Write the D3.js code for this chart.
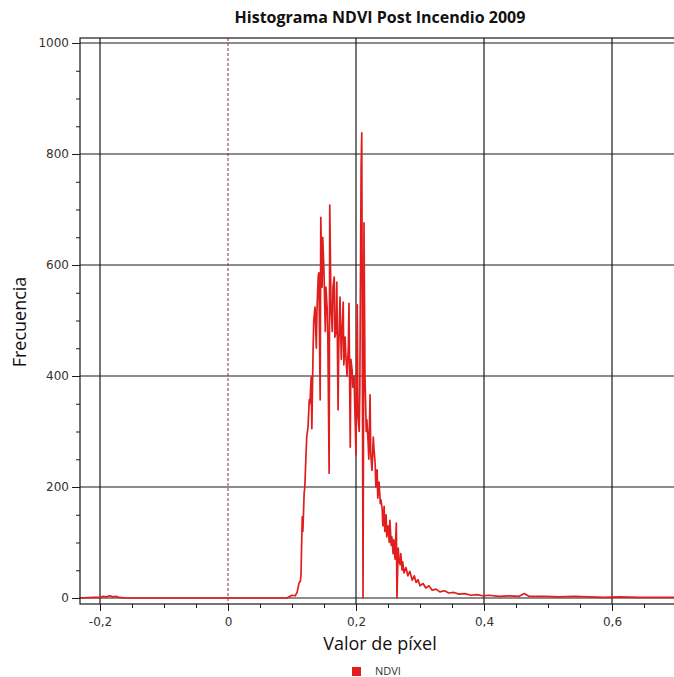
<!DOCTYPE html>
<html>
<head>
<meta charset="utf-8">
<script src="https://cdn.jsdelivr.net/npm/d3@7"></script>
<style>
  body { margin: 0; background: #fff; }
  svg { display: block; }
</style>
</head>
<body>
<div id="chart"></div>
<script>
// NDVI value of each histogram bin and its pixel count
var valorPixel = [
  -0.232, -0.21, -0.2, -0.195, -0.19, -0.185, -0.18, -0.175, -0.17, -0.16, -0.1, 0, 0.05, 0.09, 0.092,
  0.100, 0.105, 0.108, 0.111, 0.113, 0.114, 0.116, 0.117, 0.119, 0.120, 0.122, 0.123, 0.125, 0.127,
  0.128, 0.130, 0.131, 0.133, 0.134, 0.136, 0.138, 0.139, 0.141, 0.142, 0.144, 0.145, 0.147, 0.148,
  0.150, 0.152, 0.153, 0.155, 0.156, 0.158, 0.159, 0.161, 0.163, 0.164, 0.166, 0.167, 0.169, 0.170,
  0.172, 0.173, 0.175, 0.177, 0.178, 0.180, 0.181, 0.183, 0.184, 0.186, 0.188, 0.189, 0.191, 0.192,
  0.194, 0.195, 0.197, 0.198, 0.200, 0.202, 0.203, 0.205, 0.206, 0.208, 0.209, 0.211, 0.2125, 0.214,
  0.216, 0.217, 0.219, 0.220, 0.222, 0.223, 0.225, 0.227, 0.228, 0.230, 0.231, 0.233, 0.234, 0.236,
  0.238, 0.239, 0.241, 0.242, 0.244, 0.245, 0.247, 0.248, 0.250, 0.252, 0.253, 0.255, 0.256, 0.258,
  0.259, 0.261, 0.263, 0.264, 0.266, 0.267, 0.269, 0.270, 0.272, 0.273, 0.275, 0.278, 0.281, 0.284,
  0.288, 0.291, 0.294, 0.297, 0.300, 0.305, 0.309, 0.314, 0.319, 0.325, 0.331, 0.338, 0.345, 0.353,
  0.361, 0.370, 0.380, 0.389, 0.398, 0.408, 0.423, 0.439, 0.455, 0.463, 0.470, 0.494, 0.517, 0.541,
  0.564, 0.588, 0.611, 0.642, 0.673, 0.700
];
var frecuencia = [
  0, 1, 1, 3, 2, 4, 2, 3, 1, 0, 0, 0, 0, 0, 0,
  5, 4, 10, 27, 30, 40, 146, 120, 189, 200, 261, 290, 308, 357,
  350, 398, 305, 452, 500, 524, 450, 519, 580, 586, 357, 686, 560, 650,
  587, 480, 560, 520, 470, 225, 708, 520, 480, 560, 578, 470, 480, 569,
  339, 450, 542, 430, 470, 533, 420, 470, 440, 400, 450, 531, 272, 430,
  410, 380, 400, 350, 258, 528, 330, 300, 380, 777, 838, 0, 676, 400,
  300, 321, 280, 250, 366, 260, 230, 290, 270, 240, 200, 231, 180, 209,
  170, 177, 159, 130, 165, 120, 150, 110, 130, 100, 140, 95, 110, 80,
  105, 70, 135, 0, 90, 70, 60, 80, 50, 65, 45, 55, 40, 48,
  32, 40, 28, 33, 22, 26, 18, 22, 14, 16, 11, 13, 9, 10,
  7, 8, 5, 6, 4, 5, 3, 4, 3, 8, 3, 3, 2, 3,
  2, 1, 2, 1, 1, 1
];
var xTicks = [-0.2, 0, 0.2, 0.4, 0.6];
var yTicks = [0, 200, 400, 600, 800, 1000];

var width = 674, height = 677;
var frame = { left: 80, top: 38, right: 680, bottom: 604 };

var svg = d3.select("#chart").append("svg")
    .attr("width", width)
    .attr("height", height)
    .style("font-family", "'DejaVu Sans', sans-serif");

var x = d3.scaleLinear().domain([-0.2, 0.6]).range([100, 612]);
var y = d3.scaleLinear().domain([0, 1000]).range([598, 43]);

// comma decimals and a plain hyphen for negatives, as in the original
var fmt = function (d) { return d === 0 ? "0" : (d < 0 ? "-" : "") + Math.abs(d).toFixed(1).replace(".", ","); };

// grid
svg.append("g").selectAll("line")
    .data(yTicks)
    .enter().append("line")
    .attr("x1", frame.left).attr("x2", frame.right)
    .attr("y1", function (d) { return y(d); }).attr("y2", function (d) { return y(d); })
    .attr("stroke", "#1a1a1a").attr("stroke-width", 1.2);

svg.append("g").selectAll("line")
    .data(xTicks.filter(function (d) { return d !== 0; }))
    .enter().append("line")
    .attr("x1", function (d) { return x(d); }).attr("x2", function (d) { return x(d); })
    .attr("y1", frame.top).attr("y2", frame.bottom)
    .attr("stroke", "#1a1a1a").attr("stroke-width", 1.2);

// dashed marker at zero
svg.append("line")
    .attr("x1", x(0)).attr("x2", x(0))
    .attr("y1", frame.top).attr("y2", frame.bottom)
    .attr("stroke", "#9e2a2a").attr("stroke-width", 1)
    .attr("stroke-dasharray", "3,2");

// histogram line
var points = valorPixel.map(function (v, i) { return [v, frecuencia[i]]; });
svg.append("path")
    .datum(points)
    .attr("fill", "none")
    .attr("stroke", "#e01e1e")
    .attr("stroke-width", 1.7)
    .attr("stroke-linejoin", "round")
    .attr("d", d3.line()
        .x(function (d) { return x(d[0]); })
        .y(function (d) { return y(d[1]); }));

// frame
svg.append("rect")
    .attr("x", frame.left).attr("y", frame.top)
    .attr("width", frame.right - frame.left).attr("height", frame.bottom - frame.top)
    .attr("fill", "none").attr("stroke", "#1a1a1a").attr("stroke-width", 1.2);

// axes
svg.append("g")
    .attr("transform", "translate(" + frame.left + ",0)")
    .call(d3.axisLeft(y).tickValues(yTicks).tickFormat(d3.format("d")).tickSize(8).tickPadding(3));
svg.append("g")
    .attr("transform", "translate(" + frame.left + ",0)")
    .call(d3.axisLeft(y).tickValues(d3.range(50, 1000, 50).filter(function (d) { return d % 200 !== 0; })).tickFormat("").tickSize(4));

svg.append("g")
    .attr("transform", "translate(0," + frame.bottom + ")")
    .call(d3.axisBottom(x).tickValues(xTicks).tickFormat(fmt).tickSize(7).tickPadding(6));
svg.append("g")
    .attr("transform", "translate(0," + frame.bottom + ")")
    .call(d3.axisBottom(x).tickValues([-0.15, -0.1, -0.05, 0.05, 0.1, 0.15, 0.25, 0.3, 0.35, 0.45, 0.5, 0.55, 0.65]).tickFormat("").tickSize(4));

svg.selectAll(".domain").remove();
svg.selectAll(".tick line").attr("stroke", "#1a1a1a");
svg.selectAll(".tick text")
    .attr("fill", "#333")
    .style("font-size", "12px")
    .style("font-family", "'DejaVu Sans', sans-serif");

// titles
svg.append("text")
    .attr("x", 380).attr("y", 23)
    .attr("text-anchor", "middle")
    .style("font-family", "'Open Sans', sans-serif")
    .style("font-weight", "bold")
    .style("font-size", "16px")
    .attr("fill", "#111")
    .text("Histograma NDVI Post Incendio 2009");

svg.append("text")
    .attr("transform", "translate(26,322) rotate(-90)")
    .attr("text-anchor", "middle")
    .style("font-family", "'Open Sans', sans-serif")
    .style("font-size", "18px")
    .attr("fill", "#111")
    .text("Frecuencia");

svg.append("text")
    .attr("x", 380).attr("y", 650)
    .attr("text-anchor", "middle")
    .style("font-family", "'Open Sans', sans-serif")
    .style("font-size", "18px")
    .attr("fill", "#111")
    .text("Valor de píxel");

// legend
svg.append("rect")
    .attr("x", 352).attr("y", 667)
    .attr("width", 9).attr("height", 9)
    .attr("fill", "#e01e1e");
svg.append("text")
    .attr("x", 375).attr("y", 672)
    .attr("dominant-baseline", "middle")
    .style("font-family", "'Open Sans', sans-serif")
    .style("font-size", "11px")
    .attr("fill", "#333")
    .text("NDVI");
</script>
</body>
</html>
